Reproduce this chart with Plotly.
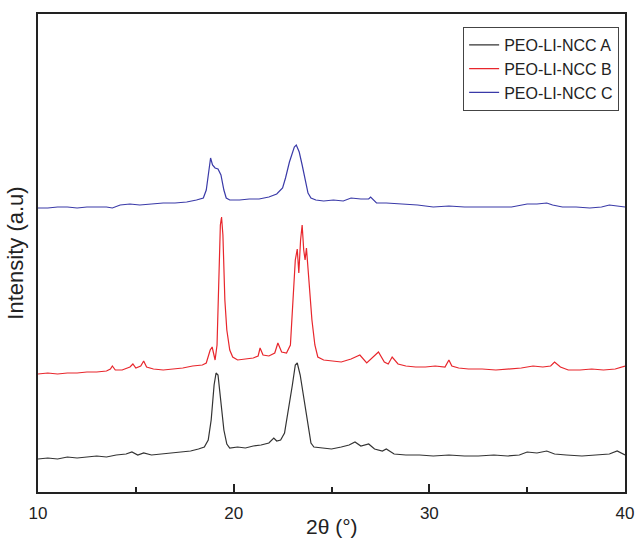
import plotly.graph_objects as go

# 2-theta positions and intensities (a.u.)
x_a = [10.0, 10.5, 11.0, 11.5, 12.0, 12.5, 13.0, 13.5, 14.0, 14.5, 14.8, 15.1, 15.4, 15.8, 16.3, 16.8,
       17.3, 17.8, 18.2, 18.5, 18.7, 18.85, 19.0, 19.1, 19.2, 19.35, 19.5, 19.65, 19.8, 20.2, 20.6,
       21.0, 21.4, 21.8, 22.05, 22.2, 22.4, 22.6, 22.8, 23.0, 23.15, 23.25, 23.4, 23.6, 23.8, 23.95,
       24.1, 24.5, 25.0, 25.5, 25.9, 26.2, 26.5, 26.9, 27.2, 27.6, 27.8, 28.2, 28.8, 29.5, 30.2, 31.0,
       31.8, 32.5, 33.3, 34.0, 34.6, 35.0, 35.5, 36.0, 36.4, 37.0, 37.8, 38.5, 39.2, 39.6, 40.0]
y_a = [41, 42, 41, 43, 42, 43, 44, 43, 45, 46, 48, 45, 47, 45, 46, 47,
       48, 49, 51, 53, 60, 80, 115, 127, 125, 100, 70, 56, 52, 53, 52,
       54, 55, 57, 62, 59, 60, 67, 90, 115, 135, 137, 125, 100, 72, 57,
       53, 52, 51, 53, 55, 58, 54, 56, 51, 49, 51, 46, 45, 45, 44, 45,
       44, 44, 45, 44, 45, 48, 47, 49, 46, 45, 44, 45, 46, 49, 45]

x_b = [10.0, 10.5, 11.0, 11.5, 12.0, 12.5, 13.0, 13.5, 13.7, 13.8, 13.95, 14.3, 14.7, 14.85, 15.0,
       15.25, 15.4, 15.55, 15.9, 16.4, 16.9, 17.4, 17.9, 18.4, 18.6, 18.8, 18.9, 19.05, 19.15, 19.25,
       19.32, 19.38, 19.45, 19.55, 19.65, 19.8, 19.95, 20.2, 20.6, 21.0, 21.25, 21.35, 21.5, 21.8,
       22.1, 22.26, 22.45, 22.7, 22.9, 23.05, 23.15, 23.25, 23.33, 23.42, 23.5, 23.58, 23.65, 23.72,
       23.85, 24.0, 24.15, 24.3, 24.6, 25.0, 25.5, 26.0, 26.45, 26.8, 27.1, 27.4, 27.7, 27.9, 28.1,
       28.4, 28.8, 29.3, 29.8, 30.3, 30.8, 31.0, 31.15, 31.5, 32.0, 32.7, 33.4, 34.0, 34.7, 35.3,
       35.8, 36.2, 36.4, 36.7, 37.1, 37.7, 38.3, 38.9, 39.5, 40.0]
y_b = [126, 127, 126, 127, 127, 128, 128, 129, 131, 134, 130, 130, 133, 136, 132,
       134, 139, 133, 131, 130, 131, 132, 134, 135, 137, 150, 153, 140, 155, 220,
       275, 283, 265, 200, 170, 150, 143, 140, 141, 142, 144, 152, 145, 144,
       147, 157, 148, 147, 155, 200, 240, 251, 227, 260, 275, 250, 240, 252,
       220, 180, 155, 143, 140, 139, 138, 141, 145, 137, 143, 148, 138, 136, 143,
       136, 134, 133, 133, 134, 133, 140, 134, 132, 131, 131, 130, 131, 132, 134,
       133, 134, 138, 133, 130, 130, 131, 130, 131, 134]

x_c = [10.0, 10.5, 11.0, 11.5, 12.0, 12.5, 13.0, 13.5, 13.8, 14.2, 14.7, 15.2, 15.8, 16.4, 17.0,
       17.6, 18.1, 18.45, 18.6, 18.72, 18.82, 18.92, 19.05, 19.2, 19.35, 19.5, 19.62, 19.8, 20.3,
       20.8, 21.3, 21.8, 22.2, 22.5, 22.65, 22.85, 23.0, 23.1, 23.2, 23.35, 23.5, 23.65, 23.8, 23.95,
       24.2, 24.6, 25.1, 25.6, 26.0, 26.5, 26.9, 27.0, 27.3, 27.8, 28.5, 29.4, 30.2, 31.0, 31.8,
       32.6, 33.4, 34.2, 35.0, 35.5, 36.0, 36.3, 36.8, 37.5, 38.2, 38.8, 39.2, 39.6, 40.0]
y_c = [292, 292, 293, 293, 292, 293, 293, 293, 292, 295, 296, 295, 296, 297, 297,
       298, 300, 302, 310, 330, 342, 335, 332, 331, 325, 310, 302, 300, 300,
       301, 301, 303, 306, 312, 322, 338, 346, 353, 355, 348, 335, 320, 307, 302,
       300, 299, 300, 299, 302, 301, 301, 303, 297, 297, 296, 295, 293, 294, 293,
       293, 293, 293, 296, 296, 297, 295, 293, 293, 292, 293, 295, 294, 293]

names = ["PEO-LI-NCC A", "PEO-LI-NCC B", "PEO-LI-NCC C"]
colors = ["#333333", "#e8262c", "#3a3aa8"]

fig = go.Figure()
for xs, ys, nm, col in zip([x_a, x_b, x_c], [y_a, y_b, y_c], names, colors):
    fig.add_trace(go.Scatter(x=xs, y=ys, mode="lines", name=nm,
                             line=dict(color=col, width=1.2)))

fig.add_annotation(text="2θ (°)", x=0.5, y=0, xref="paper", yref="paper",
                   xanchor="center", yanchor="top", yshift=-21, showarrow=False,
                   font=dict(size=21, color="#222222"))

fig.update_layout(
    width=636, height=543,
    margin=dict(l=38, r=11, t=14, b=51),
    paper_bgcolor="white", plot_bgcolor="white",
    font=dict(family="Liberation Sans, Arial, sans-serif", color="#222222"),
    showlegend=True,
    legend=dict(x=0.99, y=0.973, xanchor="right", yanchor="top",
                bordercolor="#444444", borderwidth=1, bgcolor="white",
                font=dict(size=16, color="#222222"), tracegroupgap=0,
                itemwidth=30),
    xaxis=dict(range=[10, 40], tickvals=[10, 20, 30, 40], ticks="inside", ticklen=8,
               tickwidth=1.5, tickcolor="#222", showline=True, linecolor="#222",
               linewidth=2, mirror=True, showgrid=False, zeroline=False,
               tickfont=dict(size=17), ticklabelstandoff=5, automargin=False,
               minor=dict(tickvals=[15, 25, 35], ticks="inside", ticklen=5,
                          tickwidth=1.5, tickcolor="#222")),
    yaxis=dict(range=[8, 486], showticklabels=False, ticks="", showline=True,
               linecolor="#222", linewidth=2, mirror=True, showgrid=False,
               zeroline=False, automargin=False,
               title=dict(text="Intensity (a.u)", font=dict(size=22), standoff=6)),
)

fig.write_html("out.html")
